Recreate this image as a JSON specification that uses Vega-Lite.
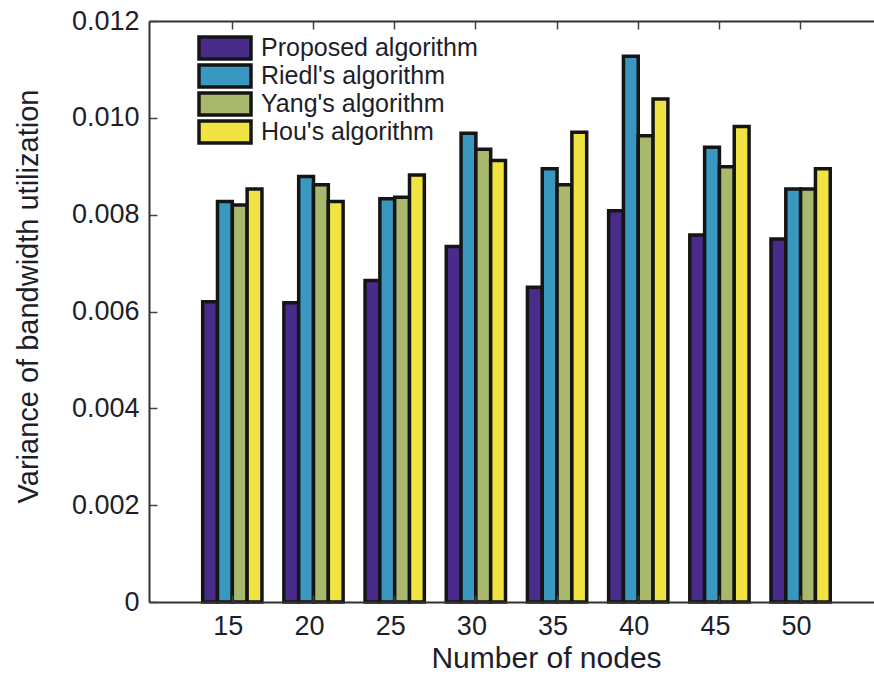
{
  "$schema": "https://vega.github.io/schema/vega-lite/v6.json",
  "width": 725,
  "height": 581,
  "autosize": {"type": "pad"},
  "padding": {"left": 14, "top": 7, "right": 0, "bottom": 0},
  "config": {
    "view": {"stroke": null},
    "font": "Liberation Sans",
    "axis": {
      "domainColor": "#333",
      "domainWidth": 2,
      "tickColor": "#444",
      "tickWidth": 1.5,
      "labelFont": "Liberation Sans",
      "titleFont": "Liberation Sans",
      "labelFontSize": 27,
      "titleFontSize": 29,
      "labelColor": "#1e1e2a",
      "titleColor": "#1e1e2a",
      "titleFontWeight": "normal",
      "grid": false
    }
  },
  "data": {
    "values": [
      {"nodes": "15", "algorithm": "Proposed algorithm", "value": 0.0062},
      {"nodes": "15", "algorithm": "Riedl's algorithm", "value": 0.00827},
      {"nodes": "15", "algorithm": "Yang's algorithm", "value": 0.0082},
      {"nodes": "15", "algorithm": "Hou's algorithm", "value": 0.00853},
      {"nodes": "20", "algorithm": "Proposed algorithm", "value": 0.00618},
      {"nodes": "20", "algorithm": "Riedl's algorithm", "value": 0.00879},
      {"nodes": "20", "algorithm": "Yang's algorithm", "value": 0.00862},
      {"nodes": "20", "algorithm": "Hou's algorithm", "value": 0.00827},
      {"nodes": "25", "algorithm": "Proposed algorithm", "value": 0.00664},
      {"nodes": "25", "algorithm": "Riedl's algorithm", "value": 0.00833},
      {"nodes": "25", "algorithm": "Yang's algorithm", "value": 0.00836},
      {"nodes": "25", "algorithm": "Hou's algorithm", "value": 0.00882},
      {"nodes": "30", "algorithm": "Proposed algorithm", "value": 0.00734},
      {"nodes": "30", "algorithm": "Riedl's algorithm", "value": 0.00968},
      {"nodes": "30", "algorithm": "Yang's algorithm", "value": 0.00935},
      {"nodes": "30", "algorithm": "Hou's algorithm", "value": 0.00912},
      {"nodes": "35", "algorithm": "Proposed algorithm", "value": 0.0065},
      {"nodes": "35", "algorithm": "Riedl's algorithm", "value": 0.00895},
      {"nodes": "35", "algorithm": "Yang's algorithm", "value": 0.00862},
      {"nodes": "35", "algorithm": "Hou's algorithm", "value": 0.0097},
      {"nodes": "40", "algorithm": "Proposed algorithm", "value": 0.00808},
      {"nodes": "40", "algorithm": "Riedl's algorithm", "value": 0.01127},
      {"nodes": "40", "algorithm": "Yang's algorithm", "value": 0.00963},
      {"nodes": "40", "algorithm": "Hou's algorithm", "value": 0.01039},
      {"nodes": "45", "algorithm": "Proposed algorithm", "value": 0.00758},
      {"nodes": "45", "algorithm": "Riedl's algorithm", "value": 0.00939},
      {"nodes": "45", "algorithm": "Yang's algorithm", "value": 0.00899},
      {"nodes": "45", "algorithm": "Hou's algorithm", "value": 0.00982},
      {"nodes": "50", "algorithm": "Proposed algorithm", "value": 0.0075},
      {"nodes": "50", "algorithm": "Riedl's algorithm", "value": 0.00853},
      {"nodes": "50", "algorithm": "Yang's algorithm", "value": 0.00853},
      {"nodes": "50", "algorithm": "Hou's algorithm", "value": 0.00895}
    ]
  },
  "layer": [
    {
      "mark": {"type": "bar", "stroke": "#151515", "strokeWidth": 3.5},
      "encoding": {
        "x": {
          "field": "nodes",
          "type": "ordinal",
          "sort": null,
          "scale": {"paddingInner": 0.27, "paddingOuter": 0.6, "align": 0.551},
          "axis": {
            "orient": "bottom",
            "title": "Number of nodes",
            "labelAngle": 0,
            "labelOffset": -4,
            "tickSize": -7,
            "labelPadding": 18,
            "titlePadding": 4,
            "titleFontSize": 30,
            "titleX": 397,
            "zindex": 1
          }
        },
        "xOffset": {
          "field": "algorithm",
          "sort": ["Proposed algorithm", "Riedl's algorithm", "Yang's algorithm", "Hou's algorithm"]
        },
        "y": {
          "field": "value",
          "type": "quantitative",
          "scale": {"domain": [0, 0.012], "nice": false},
          "axis": {
            "title": "Variance of bandwidth utilization",
            "values": [0, 0.002, 0.004, 0.006, 0.008, 0.01, 0.012],
            "labelExpr": "datum.value == 0 ? '0' : format(datum.value, '.3f')",
            "tickSize": -8,
            "labelPadding": 18,
            "titlePadding": 28,
            "titleY": 275,
            "zindex": 1
          }
        },
        "color": {
          "field": "algorithm",
          "type": "nominal",
          "sort": ["Proposed algorithm", "Riedl's algorithm", "Yang's algorithm", "Hou's algorithm"],
          "scale": {
            "domain": ["Proposed algorithm", "Riedl's algorithm", "Yang's algorithm", "Hou's algorithm"],
            "range": ["#482b8b", "#3a97c0", "#a8b86d", "#f1e442"]
          },
          "legend": {
            "title": null,
            "orient": "none",
            "legendX": 48,
            "legendY": 14,
            "symbolType": "M-1,-0.42H1V0.42H-1Z",
            "symbolSize": 2704,
            "symbolStrokeColor": "#151515",
            "symbolStrokeWidth": 3.5,
            "symbolOpacity": 1,
            "labelFont": "Liberation Sans",
            "labelFontSize": 25,
            "labelColor": "#1e1e2a",
            "labelOffset": 8,
            "clipHeight": 26,
            "rowPadding": 2,
            "labelLimit": 400
          }
        }
      }
    },
    {
      "mark": {"type": "tick", "opacity": 0},
      "encoding": {
        "x": {
          "field": "nodes",
          "type": "ordinal",
          "sort": null,
          "axis": {"orient": "top", "labels": false, "title": null, "tickSize": -8, "domain": true, "minExtent": 0, "maxExtent": 0, "labelPadding": 0, "zindex": 1}
        }
      }
    }
  ],
  "resolve": {"axis": {"x": "independent"}}
}
